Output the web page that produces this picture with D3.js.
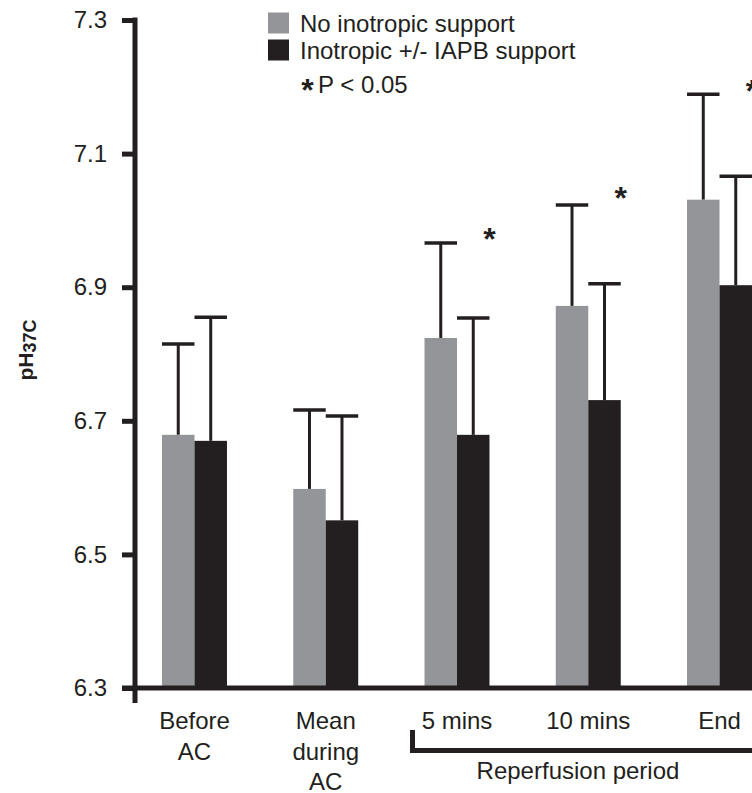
<!DOCTYPE html>
<html>
<head>
<meta charset="utf-8">
<script src="https://cdn.jsdelivr.net/npm/d3@7"></script>
<style>
  body { margin: 0; background: #fff; }
  text { font-family: Arial, "Liberation Sans", Helvetica, sans-serif; fill: #231f20; }
</style>
</head>
<body>
<svg id="chart" width="752" height="793"></svg>
<script>
// data
const categories = ["Before AC", "Mean during AC", "5 mins", "10 mins", "End"];
const catLines = [["Before", "AC"], ["Mean", "during", "AC"], ["5 mins"], ["10 mins"], ["End"]];
const seriesNames = ["No inotropic support", "Inotropic +/- IAPB support"];
const noInoMean = [6.679, 6.598, 6.824, 6.872, 7.031];
const noInoSD = [0.136, 0.118, 0.142, 0.151, 0.158];
const inoMean = [6.670, 6.551, 6.679, 6.731, 6.903];
const inoSD = [0.185, 0.156, 0.175, 0.174, 0.163];
const sigY = [null, null, 6.977, 7.038, 7.198];
const yTicks = [6.3, 6.5, 6.7, 6.9, 7.1, 7.3];

const colors = ["#939598", "#231f20"];
const ink = "#231f20";

const svg = d3.select("#chart");

// y-scale
const yScale = d3.scaleLinear().domain([6.3, 7.3]).range([688, 20]);

// x-scales: groups and bars inside a group
const x0 = d3.scaleBand().domain(categories).range([162, 752]).paddingInner(0.505).paddingOuter(0);
const x1 = d3.scaleBand().domain([0, 1]).range([0, x0.bandwidth()]);

const rows = categories.map((c, i) => ({
  cat: c,
  vals: [
    { s: 0, mean: noInoMean[i], sd: noInoSD[i] },
    { s: 1, mean: inoMean[i], sd: inoSD[i] }
  ]
}));

const groups = svg.selectAll("g.grp")
  .data(rows)
  .enter()
  .append("g")
  .attr("class", "grp")
  .attr("transform", d => `translate(${x0(d.cat)},0)`);

// error bars first (drawn behind the bars)
const eb = groups.selectAll("g.eb")
  .data(d => d.vals)
  .enter()
  .append("g");

eb.append("line")
  .attr("x1", d => x1(d.s) + x1.bandwidth() / 2)
  .attr("x2", d => x1(d.s) + x1.bandwidth() / 2)
  .attr("y1", d => yScale(d.mean))
  .attr("y2", d => yScale(d.mean + d.sd))
  .attr("stroke", ink)
  .attr("stroke-width", 3);

eb.append("line")
  .attr("x1", d => x1(d.s))
  .attr("x2", d => x1(d.s) + x1.bandwidth())
  .attr("y1", d => yScale(d.mean + d.sd))
  .attr("y2", d => yScale(d.mean + d.sd))
  .attr("stroke", ink)
  .attr("stroke-width", 3.5);

// bars
groups.selectAll("rect")
  .data(d => d.vals)
  .enter()
  .append("rect")
  .attr("x", d => x1(d.s))
  .attr("y", d => yScale(d.mean))
  .attr("width", x1.bandwidth())
  .attr("height", d => yScale(6.3) - yScale(d.mean))
  .attr("fill", d => colors[d.s]);

// significance stars
categories.forEach((c, i) => {
  if (sigY[i] == null) return;
  svg.append("text")
    .attr("x", x0(c) + x0.bandwidth())
    .attr("y", yScale(sigY[i]) + 14)
    .attr("text-anchor", "middle")
    .attr("font-size", 32)
    .attr("font-weight", "bold")
    .text("*");
});

// y axis
const yAxis = svg.append("g")
  .attr("transform", "translate(135,0)")
  .call(d3.axisLeft(yScale).tickValues(yTicks).tickFormat(d3.format(".1f")).tickSize(13).tickSizeOuter(0).tickPadding(15));
yAxis.select(".domain").remove();
yAxis.selectAll(".tick line").attr("stroke", ink).attr("stroke-width", 5);
yAxis.selectAll(".tick text").attr("font-size", 24).attr("fill", ink)
  .style("font-family", "Arial, 'Liberation Sans', sans-serif");

svg.append("line")
  .attr("x1", 135).attr("x2", 135)
  .attr("y1", yScale(7.3) - 2.5).attr("y2", yScale(6.3) + 15)
  .attr("stroke", ink).attr("stroke-width", 5);

// x axis baseline
svg.append("line")
  .attr("x1", 122).attr("x2", 752)
  .attr("y1", yScale(6.3)).attr("y2", yScale(6.3))
  .attr("stroke", ink).attr("stroke-width", 5);

// category labels
categories.forEach((c, i) => {
  const t = svg.append("text")
    .attr("x", x0(c) + x0.bandwidth() / 2)
    .attr("y", 729)
    .attr("text-anchor", "middle")
    .attr("font-size", 24);
  catLines[i].forEach((ln, j) => {
    t.append("tspan")
      .attr("x", x0(c) + x0.bandwidth() / 2)
      .attr("y", 729 + j * 30.5)
      .text(ln);
  });
});

// reperfusion bracket
const bx = x0("5 mins") - 12;
svg.append("path")
  .attr("d", `M${bx},730 V750.5 H752`)
  .attr("fill", "none")
  .attr("stroke", ink)
  .attr("stroke-width", 5);
svg.append("text")
  .attr("x", 578)
  .attr("y", 779)
  .attr("text-anchor", "middle")
  .attr("font-size", 24)
  .text("Reperfusion period");

// y label
const yl = svg.append("text")
  .attr("transform", "translate(33,350) rotate(-90)")
  .attr("text-anchor", "middle")
  .attr("font-weight", "bold")
  .attr("font-size", 21);
yl.append("tspan").text("pH");
yl.append("tspan").attr("font-size", 18).attr("dy", 3).text("37C");

// legend
const legend = svg.append("g");
seriesNames.forEach((n, i) => {
  legend.append("rect")
    .attr("x", 268).attr("y", 12.5 + i * 27)
    .attr("width", 21).attr("height", 21)
    .attr("fill", colors[i]);
  legend.append("text")
    .attr("x", 300).attr("y", 31.5 + i * 27.5)
    .attr("font-size", 24)
    .text(n);
});
legend.append("text")
  .attr("x", 307.5).attr("y", 101)
  .attr("text-anchor", "middle")
  .attr("font-size", 32)
  .attr("font-weight", "bold")
  .text("*");
legend.append("text")
  .attr("x", 318).attr("y", 93)
  .attr("font-size", 24)
  .text("P < 0.05");
</script>
</body>
</html>
